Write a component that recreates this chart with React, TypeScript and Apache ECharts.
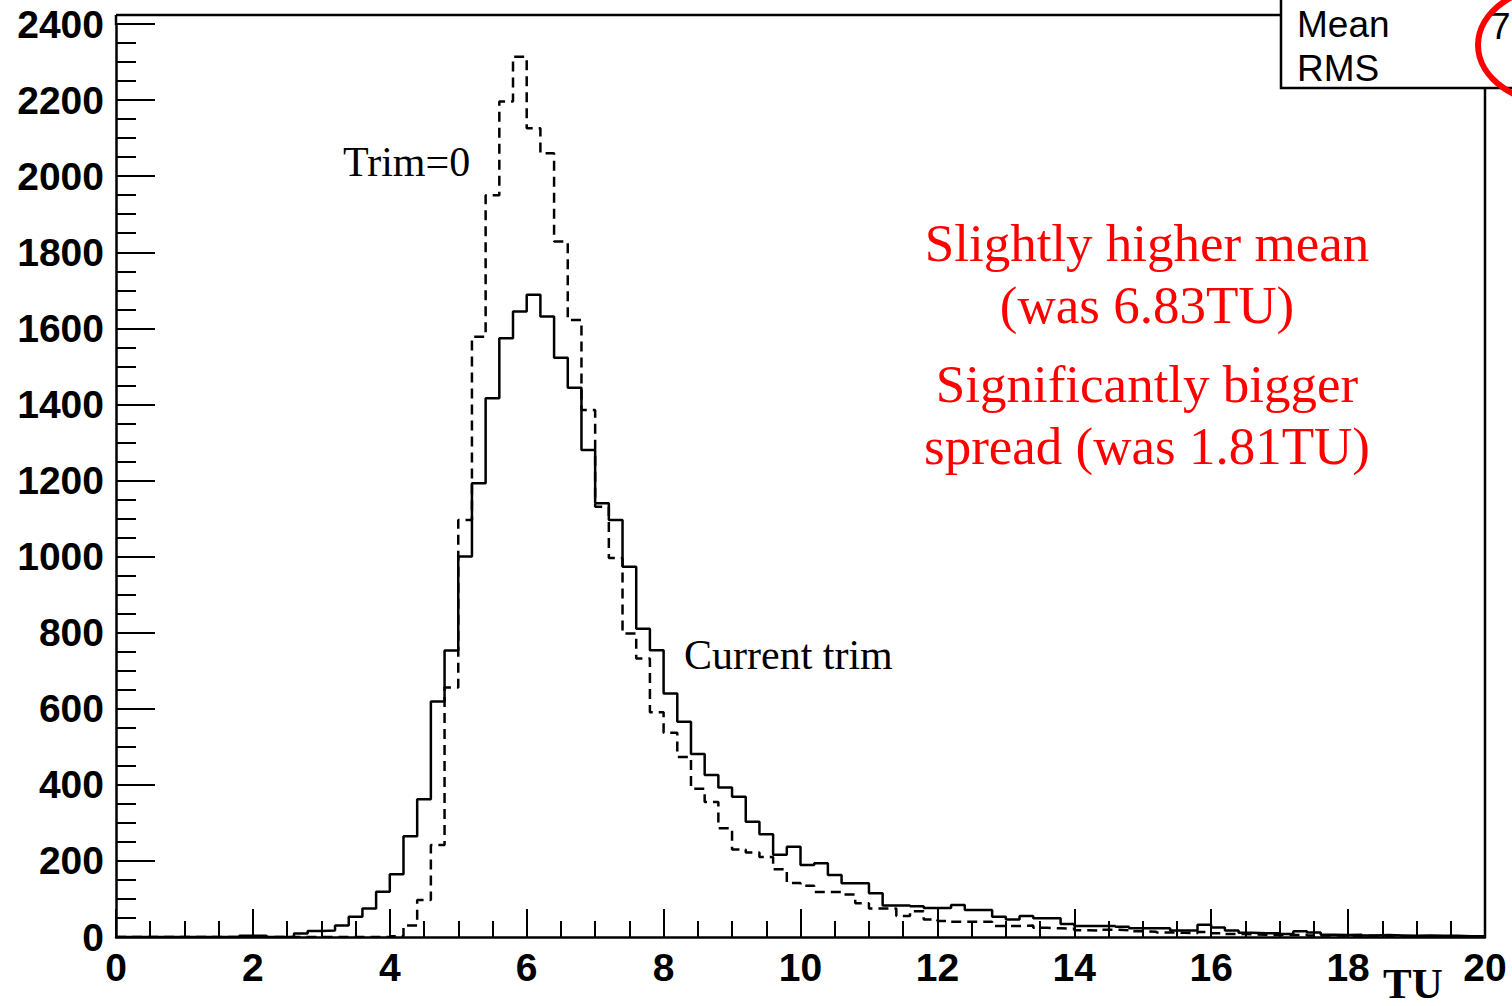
import React, { useEffect, useRef } from "react";
import * as echarts from "echarts";

// Histogram: 100 bins of 0.2 TU between 0 and 20 TU
const binWidth = 0.2;

// "Current trim" (solid)
const currentTrim = [
  0, 0, 0, 0, 0, 0, 0, 0, 0,
  3, 3, 0, 0, 9, 16, 17,
  30, 53, 75, 119, 165, 265, 362, 619, 753,
  1000, 1193, 1416, 1574, 1644, 1688, 1631, 1523, 1444, 1280, 1140, 1096,
  973, 810, 754, 640, 566, 481, 426, 393, 369, 303, 270, 216, 237, 189, 194, 163, 141, 141, 115,
  83, 83, 81, 76, 76, 84, 71, 71, 53, 46, 55, 49, 49, 34, 29, 29, 29, 27, 23, 23, 23, 17, 17, 32,
  25, 17, 11, 10, 10, 8, 15, 12, 6, 5, 6, 4, 5, 4, 3, 4, 3, 3, 2, 2,
];

// "Trim=0" (dashed)
const trimZero = [
  0, 0, 0, 0, 0, 0, 0, 0, 0,
  2, 2, 0, 0, 0, 0, 0, 0, 0, 0, 0, 2,
  30, 97, 242, 656, 1096, 1578, 1950, 2196, 2314, 2126, 2060, 1828, 1622, 1385, 1131, 996,
  798, 732, 591, 537, 473, 390, 355, 286, 230, 222, 210, 178, 142, 135, 118, 118, 112, 89, 75, 75, 55, 68, 46,
  42, 40, 40, 40, 29, 29, 30, 24, 23, 22, 18, 17, 19, 18, 15, 14, 12, 11, 10, 13,
  10, 8, 7, 6, 5, 5, 6, 4, 4, 3, 3, 3, 2, 2, 2, 2, 1, 1, 1, 1,
];

const xMin = 0;
const xMax = 20;
const xInterval = 2;
const yMin = 0;
const yMax = 2400;
const yInterval = 200;

const seriesLabels = ["Trim=0", "Current trim"];
const noteLines = [
  "Slightly higher mean",
  "(was 6.83TU)",
  "Significantly bigger",
  "spread (was 1.81TU)",
];
const statsLabels = ["Mean", "RMS"];
const statsValueStart = "7";
const xAxisTitle = "TU";

function toSteps(values: number[]): number[][] {
  const pts = values.map((v, i) => [Math.round(i * binWidth * 100) / 100, v]);
  pts.push([Math.round(values.length * binWidth * 100) / 100, values[values.length - 1]]);
  return pts;
}

const SANS = '"Liberation Sans", Arial, Helvetica, sans-serif';
const SERIF = '"Liberation Serif", "Times New Roman", Times, serif';

export default function App() {
  const ref = useRef<HTMLDivElement>(null);

  useEffect(() => {
    if (!ref.current) return;
    const chart = echarts.init(ref.current, undefined, { renderer: "svg" });

    const axisLabelStyle = {
      color: "#000",
      fontFamily: SANS,
      fontWeight: "bold" as const,
      fontSize: 39,
      formatter: (v: number) => String(v),
    };

    const option: any = {
      animation: false,
      backgroundColor: "#fff",
      grid: { left: 116, right: 27, top: 24, bottom: 69 },
      xAxis: {
        type: "value",
        min: xMin,
        max: xMax,
        interval: xInterval,
        axisLine: { show: true, onZero: false, lineStyle: { color: "#000", width: 2.5 } },
        axisTick: { show: true, inside: true, length: 28, lineStyle: { color: "#000", width: 2 } },
        minorTick: { show: true, splitNumber: 4, length: 16, lineStyle: { color: "#000", width: 2 } },
        splitLine: { show: false },
        axisLabel: { ...axisLabelStyle, margin: 11 },
      },
      yAxis: {
        type: "value",
        min: yMin,
        max: yMax,
        interval: yInterval,
        axisLine: { show: true, onZero: false, lineStyle: { color: "#000", width: 2.5 } },
        axisTick: { show: true, inside: true, length: 39, lineStyle: { color: "#000", width: 2 } },
        minorTick: { show: true, splitNumber: 4, length: 20, lineStyle: { color: "#000", width: 2 } },
        splitLine: { show: false },
        axisLabel: { ...axisLabelStyle, margin: 12 },
      },
      series: [
        {
          name: seriesLabels[1],
          type: "line",
          step: "end",
          symbol: "none",
          silent: true,
          data: toSteps(currentTrim),
          lineStyle: { color: "#000", width: 2.5 },
          z: 3,
        },
        {
          name: seriesLabels[0],
          type: "line",
          step: "end",
          symbol: "none",
          silent: true,
          data: toSteps(trimZero),
          lineStyle: { color: "#000", width: 2.5, type: [10, 6] },
          z: 2,
        },
      ],
      graphic: [
        // frame: extension of the y axis, top line, right line
        { type: "line", shape: { x1: 116, y1: 15, x2: 116, y2: 25 }, style: { stroke: "#000", lineWidth: 2.5 }, z: 10 },
        { type: "line", shape: { x1: 116, y1: 15, x2: 1282, y2: 15 }, style: { stroke: "#000", lineWidth: 2.5 }, z: 10 },
        { type: "line", shape: { x1: 1485, y1: 15, x2: 1485, y2: 937 }, style: { stroke: "#000", lineWidth: 2.5 }, z: 10 },
        // stats box
        {
          type: "rect",
          shape: { x: 1281, y: -4, width: 260, height: 92 },
          style: { fill: "#fff", stroke: "#000", lineWidth: 2.5 },
          z: 20,
        },
        {
          type: "text",
          x: 1297,
          y: 24,
          style: { text: statsLabels[0], fill: "#000", font: `37px ${SANS}`, textAlign: "left", textVerticalAlign: "middle" },
          z: 21,
        },
        {
          type: "text",
          x: 1297,
          y: 68,
          style: { text: statsLabels[1], fill: "#000", font: `37px ${SANS}`, textAlign: "left", textVerticalAlign: "middle" },
          z: 21,
        },
        {
          type: "text",
          x: 1490,
          y: 26,
          style: { text: statsValueStart, fill: "#000", font: `37px ${SANS}`, textAlign: "left", textVerticalAlign: "middle" },
          z: 21,
        },
        {
          type: "ellipse",
          shape: { cx: 1563, cy: 45, rx: 85, ry: 60 },
          style: { fill: "none", stroke: "#ff0000", lineWidth: 6 },
          z: 22,
        },
        // series labels
        {
          type: "text",
          x: 343,
          y: 162,
          style: { text: seriesLabels[0], fill: "#000", font: `42px ${SERIF}`, textAlign: "left", textVerticalAlign: "middle" },
          z: 15,
        },
        {
          type: "text",
          x: 684,
          y: 655,
          style: { text: seriesLabels[1], fill: "#000", font: `42px ${SERIF}`, textAlign: "left", textVerticalAlign: "middle" },
          z: 15,
        },
        // red notes
        ...noteLines.map((t, i) => ({
          type: "text",
          x: 1147,
          y: [243, 305, 384, 446][i],
          style: { text: t, fill: "#ff0000", font: `53px ${SERIF}`, textAlign: "center", textVerticalAlign: "middle" },
          z: 15,
        })),
        // axis title
        {
          type: "text",
          x: 1383,
          y: 983,
          style: { text: xAxisTitle, fill: "#000", font: `bold 43px ${SERIF}`, textAlign: "left", textVerticalAlign: "middle" },
          z: 15,
        },
      ],
    };

    chart.setOption(option);
    return () => chart.dispose();
  }, []);

  return (
    <div
      ref={ref}
      style={{ position: "fixed", left: 0, top: 0, width: 1512, height: 1006, background: "#fff" }}
    />
  );
}
